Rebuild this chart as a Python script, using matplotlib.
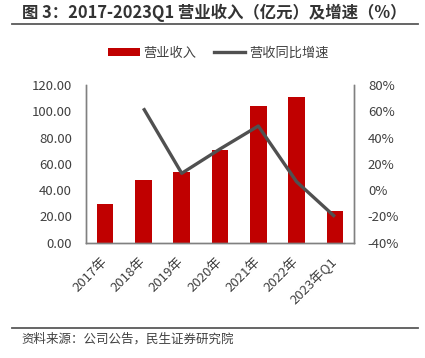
import matplotlib
matplotlib.use("Agg")
import matplotlib.pyplot as plt
from matplotlib.patches import Patch
from matplotlib.lines import Line2D
from matplotlib.ticker import FuncFormatter

plt.rcParams['font.family'] = ['Noto Sans CJK SC', 'DejaVu Sans']

categories = ["2017年", "2018年", "2019年", "2020年", "2021年", "2022年", "2023年Q1"]
revenue = [29.7, 47.9, 53.8, 70.3, 104.3, 110.7, 24.1]
growth_cats = ["2018年", "2019年", "2020年", "2021年", "2022年", "2023年Q1"]
growth = [62.3, 12.8, 31.3, 48.8, 6.4, -20.2]

W, H = 425, 358
fig = plt.figure(figsize=(W / 100, H / 100), dpi=100)
ax = fig.add_axes([86 / W, 1 - 242.7 / H, (354 - 86) / W, (242.7 - 85) / H])
ax2 = ax.twinx()

x = list(range(len(categories)))
ax.bar(x, revenue, width=0.43, color="#C00000", zorder=2)
gx = [categories.index(c) for c in growth_cats]
ax2.plot(gx, growth, color="#505050", lw=2.4, solid_capstyle="butt", zorder=3)

ax.set_xlim(-0.5, len(categories) - 0.5)
ax.set_ylim(0, 120)
ax.set_yticks([0, 20, 40, 60, 80, 100, 120])
ax.yaxis.set_major_formatter(FuncFormatter(lambda v, p: f"{v:.2f}"))
ax2.set_ylim(-40, 80)
ax2.set_yticks([-40, -20, 0, 20, 40, 60, 80])
ax2.yaxis.set_major_formatter(FuncFormatter(lambda v, p: f"{v:.0f}%"))

ax.set_xticks(x)
ax.set_xticklabels(categories, rotation=45, ha="right", va="center", rotation_mode="anchor")

tc = "#404040"
for a in (ax, ax2):
    for s in a.spines.values():
        s.set_color("#808080")
        s.set_linewidth(1.0)
    a.spines["top"].set_visible(False)
    a.tick_params(length=0, labelsize=9.5, colors=tc)
ax.tick_params(axis="y", pad=10)
ax2.tick_params(axis="y", pad=10)
ax.tick_params(axis="x", pad=12)
ax.set_zorder(ax2.get_zorder() - 1)
ax.patch.set_visible(True)
ax2.patch.set_visible(False)

handles = [Patch(facecolor="#C00000", edgecolor="none"),
           Line2D([0], [0], color="#505050", lw=2.4)]
fig.legend(handles, ["营业收入", "营收同比增速"], loc="center", bbox_to_anchor=(218.5 / W, 1 - 53 / H),
           ncol=2, frameon=False, fontsize=9.5, labelcolor=tc, handlelength=2.4,
           handleheight=0.6, handletextpad=0.3, columnspacing=1.3)

fig.text(22 / W, 1 - 13 / H, "图 3：2017-2023Q1 营业收入（亿元）及增速（%）", fontsize=11.8,
         fontweight="bold", color="#333333", ha="left", va="center")
fig.add_artist(Line2D([12 / W, 418 / W], [1 - 24 / H, 1 - 24 / H], color="#595959", lw=1.3))
fig.add_artist(Line2D([12 / W, 418 / W], [1 - 327.7 / H, 1 - 327.7 / H], color="#595959", lw=1.3))
fig.text(21 / W, 1 - 339 / H, "资料来源：公司公告，民生证券研究院", fontsize=9,
         color=tc, ha="left", va="center")

fig.savefig("out.png", dpi=100)
